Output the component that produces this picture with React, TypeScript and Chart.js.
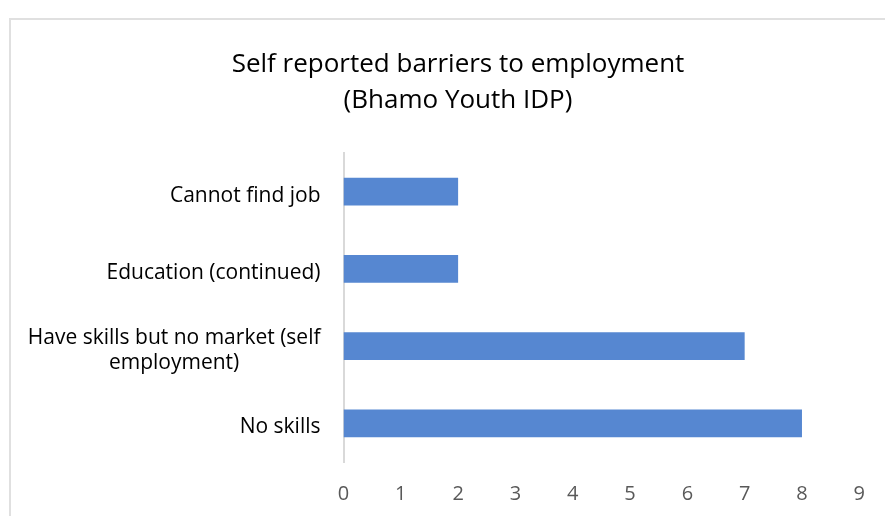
import React, { useEffect, useRef } from "react";
import { Chart, registerables } from "chart.js";

Chart.register(...registerables);

const titleLines = ["Self reported barriers to employment", "(Bhamo Youth IDP)"];
const categories: string[][] = [
  ["Cannot find job"],
  ["Education (continued)"],
  ["Have skills but no market (self", "employment)"],
  ["No skills"],
];
const values = [2, 2, 7, 8];
const xMin = 0;
const xMax = 9;
const xStep = 1;

const FONT = "'Open Sans', Lato, sans-serif";

const textPlugin = {
  id: "customText",
  afterDraw(chart: any) {
    const ctx = chart.ctx;
    const y = chart.scales.y;
    ctx.save();
    // title
    ctx.font = `26px ${FONT}`;
    ctx.fillStyle = "#000000";
    ctx.textAlign = "center";
    ctx.textBaseline = "middle";
    titleLines.forEach((l, j) => ctx.fillText(l, 458, 65 + j * 36));
    // category labels
    const rightEdge = chart.chartArea.left - 23;
    const lineH = 25;
    ctx.font = `21px ${FONT}`;
    categories.forEach((lines, i) => {
      const cy = y.getPixelForValue(i) + 4;
      const maxW = Math.max(...lines.map((l) => ctx.measureText(l).width));
      const cx = rightEdge - maxW / 2;
      const startY = cy - ((lines.length - 1) * lineH) / 2;
      lines.forEach((l, j) => ctx.fillText(l, cx, startY + j * lineH));
    });
    ctx.restore();
  },
};

export default function App() {
  const ref = useRef<HTMLCanvasElement>(null);
  useEffect(() => {
    if (!ref.current) return;
    const chart = new Chart(ref.current, {
      type: "bar",
      data: {
        labels: categories.map((c) => c.join(" ")),
        datasets: [
          {
            data: values,
            backgroundColor: "#5687d1",
            borderWidth: 0,
            categoryPercentage: 1,
            barPercentage: 0.357,
          },
        ],
      },
      options: {
        indexAxis: "y",
        responsive: false,
        animation: false,
        devicePixelRatio: 1,
        layout: { padding: { left: 0, right: 24.6, top: 153, bottom: 0 } },
        plugins: {
          legend: { display: false },
          tooltip: { enabled: false },
          title: { display: false },
        },
        scales: {
          x: {
            min: xMin,
            max: xMax,
            grid: { display: false, drawTicks: false },
            border: { display: false },
            ticks: {
              stepSize: xStep,
              color: "#595959",
              font: { family: FONT, size: 20 },
              padding: 20,
            },
            afterFit(scale: any) {
              scale.height = 54;
            },
          },
          y: {
            grid: { display: false, drawTicks: false },
            border: { display: true, color: "#d9d9d9", width: 2 },
            ticks: { display: false },
            afterFit(scale: any) {
              scale.width = 343.5;
            },
          },
        },
      },
      plugins: [textPlugin],
    });
    return () => chart.destroy();
  }, []);

  return (
    <div
      style={{
        position: "fixed",
        left: 0,
        top: 0,
        width: 885,
        height: 516,
        overflow: "hidden",
        background: "#ffffff",
      }}
    >
      <div
        style={{
          position: "absolute",
          left: 9,
          top: 18,
          width: 900,
          height: 520,
          border: "2px solid #e0e0e0",
          boxSizing: "border-box",
        }}
      />
      <canvas
        ref={ref}
        width={885}
        height={516}
        style={{ position: "absolute", left: 0, top: 0, width: 885, height: 516 }}
      />
    </div>
  );
}
